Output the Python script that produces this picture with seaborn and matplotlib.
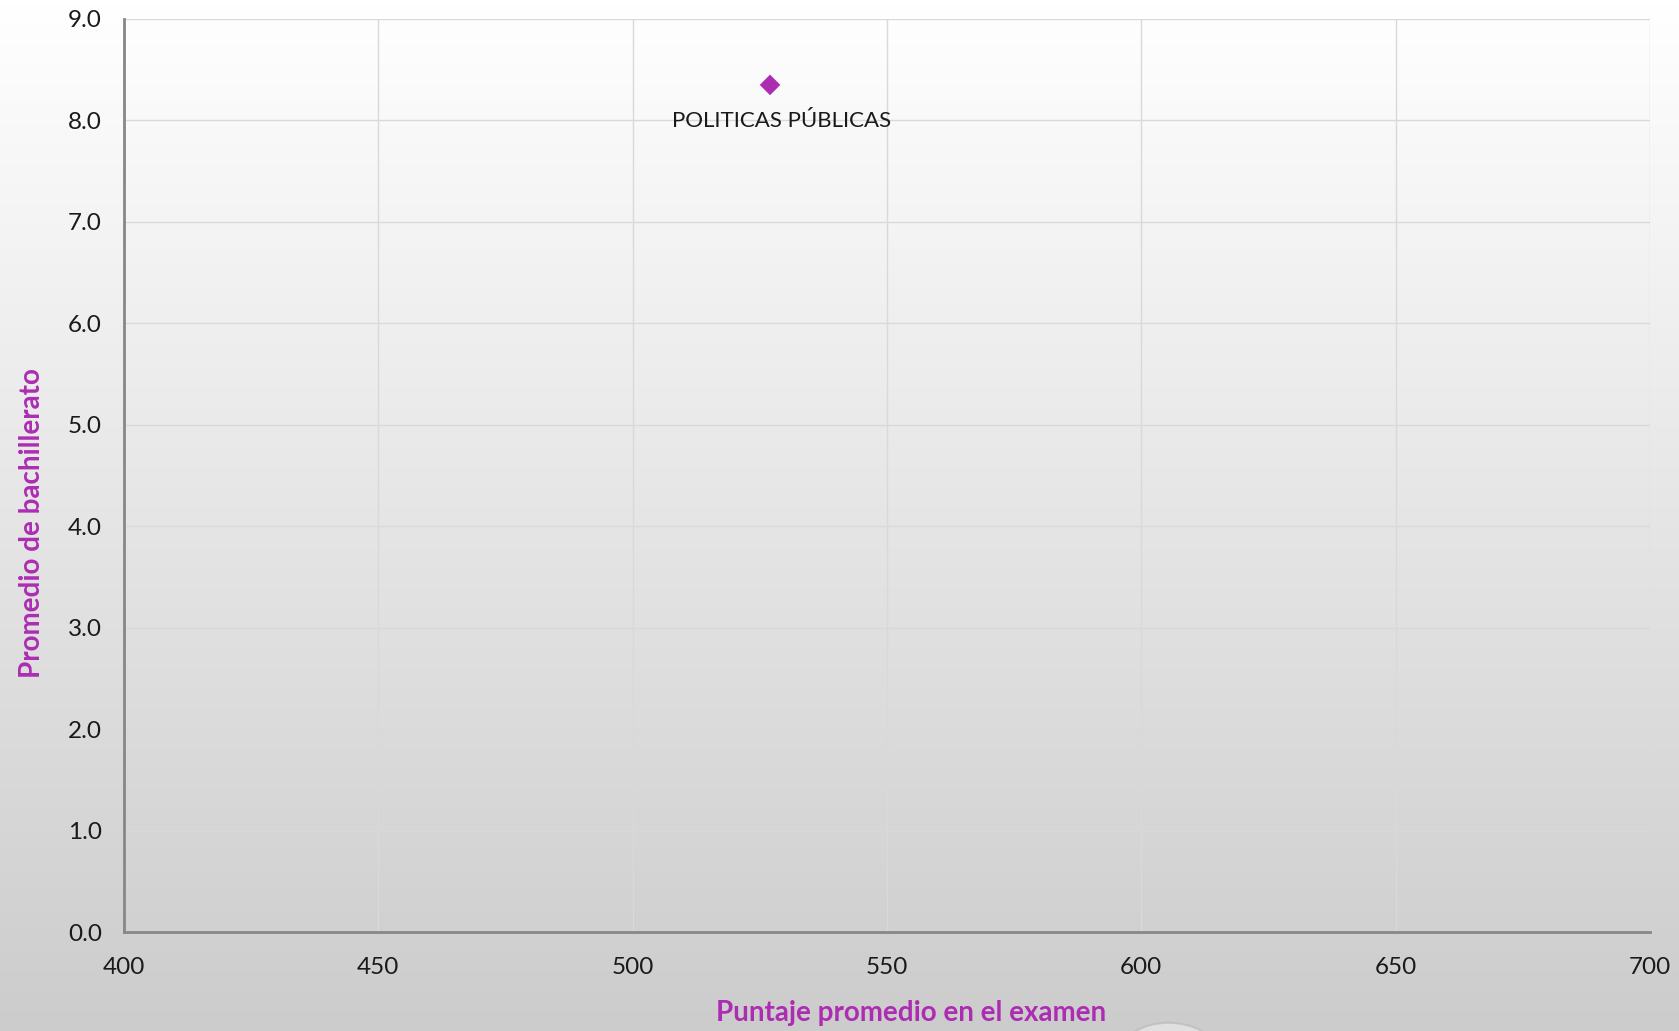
import numpy as np
import pandas as pd
import matplotlib
matplotlib.use("Agg")
import matplotlib.pyplot as plt
import seaborn as sns
from matplotlib.patches import Circle

# Data
careers = ["POLITICAS PÚBLICAS"]
exam_scores = [527]
hs_averages = [8.35]

x_ticks = [400, 450, 500, 550, 600, 650, 700]
y_ticks = [0.0, 1.0, 2.0, 3.0, 4.0, 5.0, 6.0, 7.0, 8.0, 9.0]

df = pd.DataFrame({"carrera": careers, "examen": exam_scores, "bachillerato": hs_averages})

sns.set_style("white")
plt.rcParams["font.family"] = ["Lato", "DejaVu Sans"]

purple = "#AC2DB2"
axis_gray = "#878787"

fig = plt.figure(figsize=(16.79, 10.31), dpi=100)

# gradient background
bg = fig.add_axes([0, 0, 1, 1], zorder=-10)
grad = np.linspace(1.0, 0.0, 256).reshape(-1, 1)
top = np.array([1.0, 1.0, 1.0])
bot = np.array([0.80, 0.80, 0.80])
img = grad[..., None] * top + (1 - grad[..., None]) * bot
bg.imshow(img, aspect="auto", extent=[0, 1, 0, 1], origin="upper")
bg.set_axis_off()
# decorative bubble
bg.add_patch(Circle((0.696, -0.02), 0.028, transform=bg.transAxes,
                    facecolor="#e6e6e6", edgecolor="#bdbdbd", lw=1.5, alpha=0.8))

ax = fig.add_axes([0.0739, 0.0960, 0.9088, 0.8856])
ax.set_facecolor("none")

sns.scatterplot(data=df, x="examen", y="bachillerato", ax=ax, marker="D",
                s=110, color=purple, edgecolor="none", zorder=5)

for _, r in df.iterrows():
    ax.annotate(r["carrera"], (r["examen"], r["bachillerato"]),
                xytext=(8, -26), textcoords="offset points",
                ha="center", va="center", fontsize=16, color="#1a1a1a")

ax.set_xlim(400, 700)
ax.set_ylim(0, 9)
ax.set_xticks(x_ticks)
ax.set_yticks(y_ticks)
ax.set_xticklabels([str(t) for t in x_ticks])
ax.set_yticklabels([f"{t:.1f}" for t in y_ticks])
ax.grid(True, color="#d9d9d9", lw=1.0)
ax.set_axisbelow(True)

for s in ["top", "right"]:
    ax.spines[s].set_visible(False)
for s in ["left", "bottom"]:
    ax.spines[s].set_color(axis_gray)
    ax.spines[s].set_linewidth(2)

ax.tick_params(axis="both", which="major", direction="out", length=6, width=2,
               color=axis_gray, labelsize=17.5, labelcolor="#1a1a1a")
ax.tick_params(axis="x", pad=12)
ax.tick_params(axis="y", pad=10)

ax.set_xlabel("Puntaje promedio en el examen", fontsize=20, fontweight="bold",
              color=purple)
ax.set_ylabel("Promedio de bachillerato", fontsize=20, fontweight="bold",
              color=purple)
ax.xaxis.set_label_coords(0.516, -0.074)
ax.yaxis.set_label_coords(-0.052, 0.448)

fig.savefig("out.png", dpi=100)
